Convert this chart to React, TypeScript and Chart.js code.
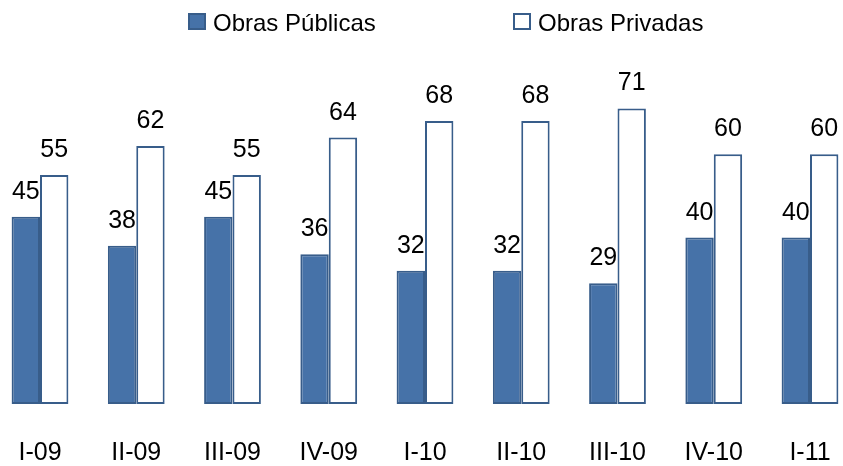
import React, { useEffect, useRef } from "react";
import { Chart, registerables } from "chart.js";

Chart.register(...registerables);

const categories = ["I-09", "II-09", "III-09", "IV-09", "I-10", "II-10", "III-10", "IV-10", "I-11"];
const publicas = [45, 38, 45, 36, 32, 32, 29, 40, 40];
const privadas = [55, 62, 55, 64, 68, 68, 71, 60, 60];
const seriesNames = ["Obras Públicas", "Obras Privadas"];

const FONT = "'Liberation Sans', Arial, sans-serif";
const BLUE = "#4672A8";
const BLUE_BORDER = "#385D8A";

const labelPlugin = {
  id: "valueLabels",
  afterDatasetsDraw(chart: any) {
    const ctx = chart.ctx;
    ctx.save();
    ctx.font = `25px ${FONT}`;
    ctx.fillStyle = "#000";
    ctx.textAlign = "center";
    ctx.textBaseline = "alphabetic";
    chart.data.datasets.forEach((ds: any, i: number) => {
      const meta = chart.getDatasetMeta(i);
      meta.data.forEach((el: any, j: number) => {
        ctx.fillText(String(ds.data[j]), el.x, el.y - 18);
      });
    });
    ctx.restore();
  },
};

const legendPlugin = {
  id: "customLegend",
  afterDraw(chart: any) {
    const ctx = chart.ctx;
    ctx.save();
    const items = [
      { x: 188, fill: BLUE, text: seriesNames[0] },
      { x: 513, fill: "#FFFFFF", text: seriesNames[1] },
    ];
    ctx.font = `24px ${FONT}`;
    ctx.textBaseline = "alphabetic";
    ctx.textAlign = "left";
    items.forEach((it) => {
      ctx.fillStyle = it.fill;
      ctx.fillRect(it.x, 13, 18, 17);
      ctx.strokeStyle = BLUE_BORDER;
      ctx.lineWidth = 2;
      ctx.strokeRect(it.x + 1, 14, 16, 15);
      ctx.fillStyle = "#000";
      ctx.fillText(it.text, it.x + 25, 31);
    });
    ctx.restore();
  },
};

export default function App() {
  const ref = useRef<HTMLCanvasElement>(null);
  useEffect(() => {
    if (!ref.current) return;
    const chart = new Chart(ref.current, {
      type: "bar",
      data: {
        labels: categories,
        datasets: [
          {
            label: seriesNames[0],
            data: publicas,
            backgroundColor: BLUE,
            borderColor: BLUE_BORDER,
            borderWidth: 2,
            borderSkipped: false,
            clip: false,
          },
          {
            label: seriesNames[1],
            data: privadas,
            backgroundColor: "#FFFFFF",
            borderColor: BLUE_BORDER,
            borderWidth: 2,
            borderSkipped: false,
            clip: false,
          },
        ],
      },
      options: {
        responsive: false,
        animation: false,
        layout: { padding: { left: 40, right: 33, top: 71, bottom: 0 } },
        plugins: { legend: { display: false }, tooltip: { enabled: false } },
        datasets: { bar: { categoryPercentage: 0.59, barPercentage: 1 } },
        scales: {
          x: {
            offset: false,
            grid: { display: false, drawTicks: false },
            border: { display: false },
            ticks: { font: { size: 25, family: FONT }, color: "#000", padding: 34, maxRotation: 0, autoSkip: false },
            afterFit(scale: any) {
              scale.height = 62;
              scale.paddingLeft = 0;
              scale.paddingRight = 0;
            },
          },
          y: { display: false, min: 0, max: 80 },
        },
      },
      plugins: [labelPlugin, legendPlugin],
    });
    return () => chart.destroy();
  }, []);
  return (
    <div style={{ position: "fixed", left: 0, top: 0, width: 843, height: 466, background: "#fff" }}>
      <canvas ref={ref} width={843} height={466} style={{ display: "block" }} />
    </div>
  );
}
